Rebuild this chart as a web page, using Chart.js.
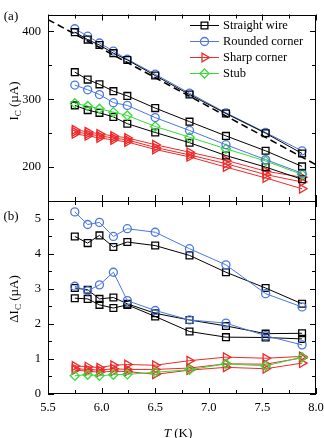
<!DOCTYPE html>
<html>
<head>
<meta charset="utf-8">
<script src="https://cdn.jsdelivr.net/npm/chart.js@4.4.0/dist/chart.umd.min.js"></script>
<style>
  html, body { margin: 0; padding: 0; background: #fff; }
  #wrap { position: relative; width: 324px; height: 438px; }
  canvas { position: absolute; left: 0; top: 0; }
</style>
</head>
<body>
<div id="wrap">
  <canvas id="chartIc" width="324" height="438"></canvas>
  <canvas id="chartDelta" width="324" height="438"></canvas>
</div>
<script>
// temperatures (K)
const temps = [5.75, 5.87, 5.98, 6.11, 6.24, 6.50, 6.82, 7.16, 7.53, 7.87];

// panel (a): critical current (uA)
const straightA1 = [399, 388, 380, 368, 358, 335, 307, 279, 250, 220];
const straightA2 = [340, 329, 322, 312, 305, 287, 267, 246, 224, 201];
const straightA3 = [291, 284, 280, 274, 264, 251, 236, 217, 200, 182];
const roundedA1 = [404, 393, 383, 371, 359, 337, 309, 280, 251, 224];
const roundedA2 = [321, 314, 307, 295, 291, 273, 254, 233, 211, 191];
const sharpA1 = [255, 252, 249, 246, 243, 233, 222, 210, 194, 185];
const sharpA2 = [252, 249, 246, 243, 240, 229, 218, 205, 189, 178];
const sharpA3 = [249, 246, 243, 240, 237, 226, 215, 200, 184, 168];
const stubA = [294, 290, 286, 281, 276, 260, 244, 227, 209, 189];
// dashed linear fit
const fitT = [5.5, 8.0];
const fitIc = [417.5, 203.5];

// panel (b): delta Ic (uA)
const straightB1 = [4.49, 4.30, 4.52, 4.19, 4.33, 4.23, 3.95, 3.47, 3.02, 2.57];
const straightB2 = [3.02, 2.97, 2.71, 2.75, 2.57, 2.30, 2.11, 1.94, 1.72, 1.73];
const straightB3 = [2.73, 2.71, 2.54, 2.45, 2.54, 2.21, 1.78, 1.62, 1.61, 1.57];
const roundedB1 = [5.19, 4.83, 4.89, 4.49, 4.71, 4.61, 4.14, 3.68, 2.86, 2.48];
const roundedB2 = [3.07, 2.94, 3.11, 3.47, 2.66, 2.38, 2.11, 2.02, 1.66, 1.40];
const sharpB1 = [0.80, 0.78, 0.75, 0.82, 0.84, 0.82, 0.95, 1.05, 1.02, 1.07];
const sharpB2 = [0.72, 0.70, 0.68, 0.72, 0.70, 0.70, 0.74, 0.86, 0.85, 1.03];
const sharpB3 = [0.68, 0.65, 0.62, 0.65, 0.64, 0.56, 0.68, 0.76, 0.72, 0.88];
const stubB = [0.52, 0.55, 0.52, 0.55, 0.56, 0.62, 0.69, 0.86, 0.80, 1.05];

// ticks
const xMajor = [5.5, 6.0, 6.5, 7.0, 7.5, 8.0];
const xMinor = [5.75, 6.25, 6.75, 7.25, 7.75];
const yMajorA = [200, 300, 400];
const yMinorA = [250, 350];
const yMajorB = [0, 1, 2, 3, 4, 5];
const yMinorB = [0.5, 1.5, 2.5, 3.5, 4.5];

// legend
const legendNames = ['Straight wire', 'Rounded corner', 'Sharp corner', 'Stub'];

const BLACK = '#000000';
const BLUE = '#4a78e0';
const RED = '#ee2a2a';
const GREEN = '#35dd35';
const FONT = 'Liberation Serif';

const styles = {
    straight: { color: BLACK, pointStyle: 'rect', radius: 4.8, rotation: 0 },
    rounded: { color: BLUE, pointStyle: 'circle', radius: 4, rotation: 0 },
    sharp: { color: RED, pointStyle: 'triangle', radius: 5, rotation: 90 },
    stub: { color: GREEN, pointStyle: 'rectRot', radius: 4.6, rotation: 0 }
};

function series(ys, kind) {
    const s = styles[kind];
    return {
        data: temps.map((t, i) => ({ x: t, y: ys[i] })),
        borderColor: s.color,
        borderWidth: 1,
        pointStyle: s.pointStyle,
        pointRadius: s.radius,
        pointRotation: s.rotation,
        pointBorderColor: s.color,
        pointBackgroundColor: 'rgba(255,255,255,0)',
        pointBorderWidth: 1.3,
        tension: 0,
        fill: false
    };
}

function drawRich(ctx, parts, cx, cy, rotate) {
    ctx.save();
    ctx.translate(cx, cy);
    if (rotate) ctx.rotate(-Math.PI / 2);
    const fontOf = p => (p.italic ? 'italic ' : '') + (p.size || 13) + 'px "' + FONT + '"';
    let total = 0;
    parts.forEach(p => { ctx.font = fontOf(p); p.w = ctx.measureText(p.t).width; total += p.w; });
    let xx = -total / 2;
    ctx.fillStyle = '#000';
    ctx.textBaseline = 'alphabetic';
    ctx.textAlign = 'left';
    parts.forEach(p => {
        ctx.font = fontOf(p);
        ctx.fillText(p.t, xx, 4.5 + (p.dy || 0));
        xx += p.w;
    });
    ctx.restore();
}

function drawMarker(ctx, kind, x, y) {
    const s = styles[kind];
    ctx.save();
    ctx.strokeStyle = s.color;
    ctx.lineWidth = 1.3;
    ctx.beginPath();
    const r = s.radius;
    if (kind === 'straight') {
        const h = r * Math.SQRT1_2;
        ctx.rect(x - h, y - h, 2 * h, 2 * h);
    } else if (kind === 'rounded') {
        ctx.arc(x, y, r, 0, Math.PI * 2);
    } else if (kind === 'sharp') {
        ctx.moveTo(x + r, y);
        ctx.lineTo(x - r / 2, y - r * 0.866);
        ctx.lineTo(x - r / 2, y + r * 0.866);
        ctx.closePath();
    } else {
        ctx.moveTo(x, y - r);
        ctx.lineTo(x + r, y);
        ctx.lineTo(x, y + r);
        ctx.lineTo(x - r, y);
        ctx.closePath();
    }
    ctx.stroke();
    ctx.restore();
}

// frame, inward ticks, labels, titles
const deco = {
    id: 'deco',
    afterDraw(chart, args, o) {
        const { ctx, chartArea: a, scales: { x, y } } = chart;
        ctx.save();
        ctx.strokeStyle = '#000';
        ctx.lineWidth = 1;
        ctx.strokeRect(Math.round(a.left) + 0.5, Math.round(a.top) + 0.5,
            Math.round(a.right - a.left) - 1, Math.round(a.bottom - a.top) - 1);
        ctx.beginPath();
        const xt = (list, len) => list.forEach(v => {
            const px = Math.round(x.getPixelForValue(v)) + 0.5;
            ctx.moveTo(px, a.top); ctx.lineTo(px, a.top + len);
            ctx.moveTo(px, a.bottom); ctx.lineTo(px, a.bottom - len);
        });
        const yt = (list, len) => list.forEach(v => {
            const py = Math.round(y.getPixelForValue(v)) + 0.5;
            ctx.moveTo(a.left, py); ctx.lineTo(a.left + len, py);
            ctx.moveTo(a.right, py); ctx.lineTo(a.right - len, py);
        });
        xt(xMajor, 6); xt(xMinor, 4);
        yt(o.yMajor, 6); yt(o.yMinor, 4);
        ctx.stroke();
        ctx.restore();

        drawRich(ctx, [{ t: o.tag }], 11, o.tagY, false);
        drawRich(ctx, o.title, 13, o.titleY, true);
        if (o.xTitle) drawRich(ctx, o.xTitle, 178, 432, false);

        if (o.legend) {
            const kinds = ['straight', 'rounded', 'sharp', 'stub'];
            const rows = [25, 41, 57, 73];
            kinds.forEach((k, i) => {
                const yy = rows[i];
                ctx.save();
                ctx.strokeStyle = styles[k].color;
                ctx.lineWidth = 1;
                ctx.beginPath();
                ctx.moveTo(190, yy + 0.5); ctx.lineTo(219, yy + 0.5);
                ctx.stroke();
                ctx.restore();
                drawMarker(ctx, k, 204.5, yy + 0.5);
                ctx.save();
                ctx.font = '12.5px "' + FONT + '"';
                ctx.fillStyle = '#000';
                ctx.textBaseline = 'middle';
                ctx.fillText(legendNames[i], 223, yy + 1);
                ctx.restore();
            });
        }
    }
};

const tickFont = { family: FONT, size: 12.5 };

new Chart(document.getElementById('chartIc'), {
    type: 'line',
    data: {
        datasets: [
            {
                data: fitT.map((t, i) => ({ x: t, y: fitIc[i] })),
                borderColor: BLACK, borderWidth: 1.6, borderDash: [7, 4],
                pointRadius: 0, fill: false, tension: 0
            },
            series(straightA1, 'straight'),
            series(roundedA1, 'rounded'),
            series(straightA2, 'straight'),
            series(roundedA2, 'rounded'),
            series(stubA, 'stub'),
            series(straightA3, 'straight'),
            series(sharpA1, 'sharp'),
            series(sharpA2, 'sharp'),
            series(sharpA3, 'sharp')
        ]
    },
    options: {
        responsive: false,
        animation: false,
        devicePixelRatio: 1,
        layout: { padding: { left: 0, right: 8, top: 7, bottom: 237 } },
        plugins: {
            legend: { display: false },
            tooltip: { enabled: false },
            deco: {
                yMajor: yMajorA, yMinor: yMinorA, tag: '(a)', tagY: 15, titleY: 101,
                title: [{ t: 'I' }, { t: 'C', size: 9, dy: 3 }, { t: ' (\u00b5A)' }],
                legend: true
            }
        },
        scales: {
            x: { type: 'linear', min: 5.5, max: 8.0, display: false },
            y: {
                type: 'linear', min: 150, max: 425,
                grid: { display: false, drawTicks: false },
                border: { display: false },
                afterFit: s => { s.width = 48; },
                afterBuildTicks: s => { s.ticks = yMajorA.map(v => ({ value: v })); },
                ticks: { color: '#000', font: tickFont, padding: 7 }
            }
        }
    },
    plugins: [deco]
});

new Chart(document.getElementById('chartDelta'), {
    type: 'line',
    data: {
        datasets: [
            series(roundedB1, 'rounded'),
            series(straightB1, 'straight'),
            series(roundedB2, 'rounded'),
            series(straightB2, 'straight'),
            series(straightB3, 'straight'),
            series(stubB, 'stub'),
            series(sharpB1, 'sharp'),
            series(sharpB2, 'sharp'),
            series(sharpB3, 'sharp')
        ]
    },
    options: {
        responsive: false,
        animation: false,
        devicePixelRatio: 1,
        layout: { padding: { left: 0, right: 8, top: 201, bottom: 0 } },
        plugins: {
            legend: { display: false },
            tooltip: { enabled: false },
            deco: {
                yMajor: yMajorB, yMinor: yMinorB, tag: '(b)', tagY: 215, titleY: 299,
                title: [{ t: '\u0394I' }, { t: 'C', size: 9, dy: 3 }, { t: ' (\u00b5A)' }],
                xTitle: [{ t: 'T', italic: true }, { t: ' (K)' }]
            }
        },
        scales: {
            x: {
                type: 'linear', min: 5.5, max: 8.0,
                grid: { display: false, drawTicks: false },
                border: { display: false },
                afterFit: s => { s.height = 44; s.paddingLeft = 0; s.paddingRight = 0; },
                afterBuildTicks: s => { s.ticks = xMajor.map(v => ({ value: v })); },
                ticks: { color: '#000', font: tickFont, padding: 6, maxRotation: 0,
                    callback: v => v.toFixed(1) }
            },
            y: {
                type: 'linear', min: 0, max: 5.5,
                grid: { display: false, drawTicks: false },
                border: { display: false },
                afterFit: s => { s.width = 48; },
                afterBuildTicks: s => { s.ticks = yMajorB.map(v => ({ value: v })); },
                ticks: { color: '#000', font: tickFont, padding: 7 }
            }
        }
    },
    plugins: [deco]
});
</script>
</body>
</html>
